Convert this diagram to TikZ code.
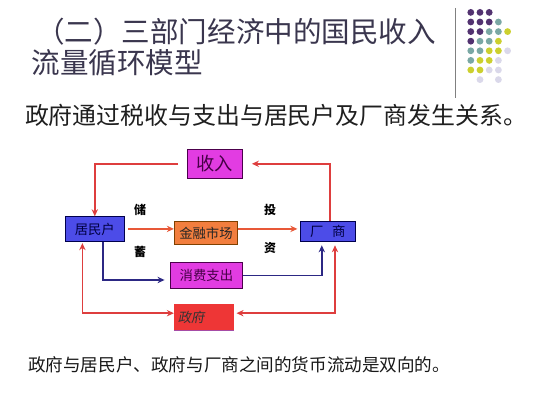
\documentclass[tikz,border=0pt]{standalone}
\usepackage{fontspec}
\setmainfont{Noto Sans CJK SC}
\newfontfamily\cjkslant[FakeSlant=0.18]{Noto Sans CJK SC}
\usetikzlibrary{arrows.meta, positioning, calc}
\definecolor{titlegray}{RGB}{58, 54, 78}
\definecolor{boxmagenta}{RGB}{226, 60, 226}
\definecolor{boxblue}{RGB}{76, 76, 232}
\definecolor{boxorange}{RGB}{242, 126, 62}
\definecolor{boxred}{RGB}{238, 54, 54}
\definecolor{flowred}{RGB}{222, 62, 62}
\definecolor{floworange}{RGB}{232, 88, 56}
\definecolor{flownavy}{RGB}{44, 40, 132}
\definecolor{dotpurple}{RGB}{82, 50, 112}
\definecolor{dotteal}{RGB}{122, 168, 164}
\definecolor{dotyellow}{RGB}{204, 208, 46}
\definecolor{dotlilac}{RGB}{218, 216, 234}

\tikzset{
  sector/.style={draw, line width=0.6pt, inner sep=0pt, font=\fontsize{9.5}{11}\selectfont},
  flow/.style={line width=1.2pt, -{Stealth[length=5pt, width=4.5pt]}},
  twoway/.style={line width=1.2pt, {Stealth[length=5pt, width=4.5pt]}-{Stealth[length=5pt, width=4.5pt]}},
  flowlabel/.style={font=\fontsize{8.5}{10}\selectfont\bfseries, inner sep=0pt}
}

\begin{document}
\begin{tikzpicture}
  \useasboundingbox[fill=white] (0,0) rectangle (13.35,10);

  % Title
  \node[anchor=west, inner sep=0pt, text=titlegray, font=\fontsize{20.3}{22}\selectfont] (title1) at (0.9, 9.22) {（二）三部门经济中的国民收入};
  \node[anchor=west, inner sep=0pt, text=titlegray, font=\fontsize{20.3}{22}\selectfont] (title2) at (0.78, 8.42) {流量循环模型};
  \draw[gray, line width=0.6pt] (11.39, 9.8) -- (11.39, 7.55);

  % Dot pattern
  \foreach \col/\row/\c in {0/0/dotpurple, 1/0/dotpurple, 2/0/dotpurple,
      0/1/dotpurple, 1/1/dotpurple, 2/1/dotpurple, 3/1/dotteal,
      0/2/dotpurple, 1/2/dotpurple, 2/2/dotteal, 3/2/dotteal, 4/2/dotyellow,
      0/3/dotpurple, 1/3/dotteal, 2/3/dotteal, 3/3/dotyellow,
      0/4/dotteal, 1/4/dotteal, 2/4/dotyellow, 3/4/dotyellow, 4/4/dotlilac,
      0/5/dotteal, 1/5/dotyellow, 2/5/dotyellow, 3/5/dotlilac,
      0/6/dotyellow, 1/6/dotyellow, 2/6/dotlilac, 3/6/dotlilac,
      1/7/dotlilac, 3/7/dotlilac}
    \fill[\c] (11.77+\col*0.23, 9.69-\row*0.24) circle (0.085);

  % Subtitle
  \node[anchor=west, inner sep=0pt, text=black!88, font=\fontsize{17}{18}\selectfont] (intro) at (0.62, 7.12) {政府通过税收与支出与居民户及厂商发生关系。};

  % Sectors
  \node[sector, fill=boxmagenta, draw=violet!60!black, text=violet!55!black, minimum width=1.375cm, minimum height=0.725cm, font=\fontsize{13}{14}\selectfont] (income) at (5.37, 5.905) {收入};
  \node[sector, fill=boxblue, draw=blue!30!black, text=blue!25!black, minimum width=1.46cm, minimum height=0.63cm] (household) at (2.37, 4.267) {居民户};
  \node[sector, fill=boxorange, draw=orange!50!black, text=black!85, minimum width=1.585cm, minimum height=0.58cm] (market) at (5.15, 4.167) {金融市场};
  \node[sector, fill=boxblue, draw=blue!30!black, text=blue!25!black, minimum width=1.36cm, minimum height=0.5cm] (firm) at (8.195, 4.208) {厂\hspace{0.65em}商};
  \node[sector, fill=boxmagenta, draw=violet!60!black, text=violet!55!black, minimum width=1.79cm, minimum height=0.64cm] (spending) at (5.16, 3.11) {消费支出};
  \node[sector, fill=boxred, draw=boxred, text=black!80, minimum width=1.475cm, minimum height=0.64cm, align=left, text width=1.3cm, font=\fontsize{9.5}{11}\selectfont\cjkslant] (gov) at (5.095, 2.07) {政府};
  \draw[violet!70, line width=1pt] (gov.south west) -- (gov.south east);

  % Labels
  \node[flowlabel] (save1) at (3.5, 4.75) {储};
  \node[flowlabel] (save2) at (3.5, 3.71) {蓄};
  \node[flowlabel] (invest1) at (6.75, 4.75) {投};
  \node[flowlabel] (invest2) at (6.75, 3.79) {资};

  % Flows
  \draw[flow, flowred, shorten <=0.22cm] (income.west) -| (household.north);
  \draw[flow, flowred, shorten >=0.23cm] ([xshift=0.05cm]firm.north) |- (income.east);
  \coordinate (saveline) at ([yshift=0.01cm]household.east);
  \draw[flow, floworange, shorten <=0.1cm] (saveline) -- (saveline -| market.west);
  \draw[flow, floworange, shorten >=0.07cm] (saveline -| market.east) -- (saveline -| firm.west);
  \draw[flow, flownavy, shorten >=0.14cm] ([xshift=0.2cm]household.south) |- ([yshift=-0.11cm]spending.west);
  \draw[flow, flownavy, shorten >=0.08cm] (spending.east) -| ([xshift=-0.15cm]firm.south);
  \draw[twoway, flowred, shorten >=0.02cm] ([yshift=0.1cm]gov.west) -| ([xshift=-0.31cm]household.south);
  \draw[twoway, flowred, shorten <=0.07cm, shorten >=0.08cm] ([yshift=0.1cm]gov.east) -| ([xshift=0.18cm]firm.south);

  % Bottom note
  \node[anchor=west, inner sep=0pt, text=black!90, font=\fontsize{12.5}{14}\selectfont] (note) at (0.7, 0.875) {政府与居民户、政府与厂商之间的货币流动是双向的。};
\end{tikzpicture}
\end{document}
